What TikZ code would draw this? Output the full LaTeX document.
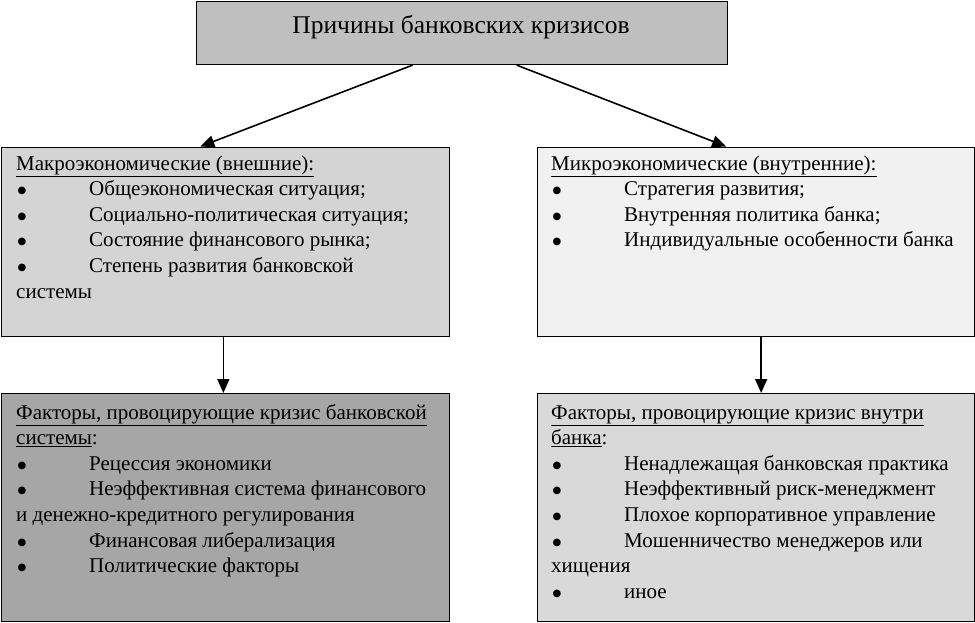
\documentclass[tikz,border=0pt]{standalone}
\usepackage{fontspec}
\setmainfont{Liberation Serif}
\newfontfamily\dejavufam{DejaVu Sans}
\usetikzlibrary{arrows.meta}
\definecolor{ctop}{RGB}{191,191,191}
\definecolor{clm}{RGB}{212,212,212}
\definecolor{crm}{RGB}{241,241,241}
\definecolor{clb}{RGB}{166,166,166}
\definecolor{crb}{RGB}{217,217,217}
\newcommand\bulitem{\makebox[73pt][l]{\hspace{1.5pt}\raisebox{2pt}{\dejavufam\fontsize{10pt}{10pt}\selectfont ●}}}
\tikzset{
  boxnode/.style={draw=black, line width=1.3pt, rectangle, inner sep=0pt, anchor=north west},
  txtnode/.style={anchor=north west, inner sep=0pt, align=left,
    font=\fontsize{21pt}{25.6pt}\selectfont},
  conn/.style={line width=1.6pt, -{Triangle[length=14pt,width=12pt]}}
}
\begin{document}
\begin{tikzpicture}[x=1pt,y=-1pt]
\useasboundingbox (0,0) rectangle (975,622);
\node[boxnode, fill=ctop, minimum width=531pt, minimum height=63pt] (top) at (195.5,0.8) {};
\node[font=\fontsize{25.5pt}{30pt}\selectfont] (title) at (461,27) {Причины банковских кризисов};
\node[boxnode, fill=clm, minimum width=448pt, minimum height=189pt] (lm) at (0.7,146.5) {};
\node[boxnode, fill=crm, minimum width=437pt, minimum height=189pt] (rm) at (537,146.5) {};
\node[boxnode, fill=clb, minimum width=448pt, minimum height=228pt] (lb) at (0.7,393) {};
\node[boxnode, fill=crb, minimum width=437pt, minimum height=228pt] (rb) at (537,393) {};
\node[txtnode] (lmt) at (16,152) {\strut\underline{Макроэкономические (внешние):}\\
\bulitem Общеэкономическая ситуация;\\
\bulitem Социально-политическая ситуация;\\
\bulitem Состояние финансового рынка;\\
\bulitem Степень развития банковской\\
системы};
\node[txtnode] (rmt) at (551,152) {\strut\underline{Микроэкономические (внутренние):}\\
\bulitem Стратегия развития;\\
\bulitem Внутренняя политика банка;\\
\bulitem Индивидуальные особенности банка};
\node[txtnode] (lbt) at (16,401) {\strut\underline{Факторы, провоцирующие кризис банковской}\\
\underline{системы}:\\
\bulitem Рецессия экономики\\
\bulitem Неэффективная система финансового\\
и денежно-кредитного регулирования\\
\bulitem Финансовая либерализация\\
\bulitem Политические факторы};
\node[txtnode] (rbt) at (551,401) {\strut\underline{Факторы, провоцирующие кризис внутри}\\
\underline{банка}:\\
\bulitem Ненадлежащая банковская практика\\
\bulitem Неэффективный риск-менеджмент\\
\bulitem Плохое корпоративное управление\\
\bulitem Мошенничество менеджеров или\\
хищения\\
\bulitem иное};
\draw[conn] ([xshift=-49pt]top.south) -- ([xshift=-25pt]lm.north);
\draw[conn] ([xshift=55pt]top.south) -- ([xshift=-30pt]rm.north);
\draw[conn] ([xshift=-2pt]lm.south) -- ([xshift=-2pt]lb.north);
\draw[conn] ([xshift=5pt]rm.south) -- ([xshift=5pt]rb.north);
\end{tikzpicture}
\end{document}
